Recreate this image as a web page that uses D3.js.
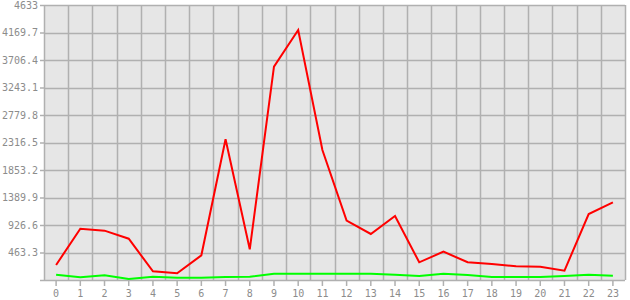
<!DOCTYPE html>
<html>
<head>
<meta charset="utf-8">
<script src="https://cdn.jsdelivr.net/npm/d3@7"></script>
<style>
body { margin: 0; background: #fff; }
</style>
</head>
<body>
<div class="canvas"></div>
<script>
// hours of the day
const hours = d3.range(0, 24);
const redValues = [253, 864, 831, 696, 146, 113, 416, 2370, 517, 3594, 4212, 2190,
    1000, 775, 1078, 298, 477, 300, 270, 230, 224, 157, 1112, 1309];
const greenValues = [89, 45, 79, 17, 56, 39, 39, 51, 56, 106, 106, 106,
    106, 106, 89, 67, 106, 84, 51, 51, 51, 67, 89, 72];
const yTicks = [0, 463.3, 926.6, 1389.9, 1853.2, 2316.5, 2779.8, 3243.1, 3706.4, 4169.7, 4633];
const yMax = 4633;

const svg = d3.select('.canvas')
    .append('svg')
    .attr('width', 630)
    .attr('height', 300);

const margin = { top: 5, right: 5, bottom: 20, left: 44 };
const graphWidth = 630 - margin.left - margin.right;
const graphHeight = 300 - margin.top - margin.bottom;

const graph = svg.append('g')
    .attr('transform', `translate(${margin.left}, ${margin.top})`);

const x = d3.scaleBand()
    .domain(hours)
    .range([0, graphWidth]);

const y = d3.scaleLinear()
    .domain([0, yMax])
    .range([graphHeight, 0]);

const gridColor = '#b0b0b0';
const textColor = '#8c8c8c';

graph.append('rect')
    .attr('width', graphWidth)
    .attr('height', graphHeight)
    .attr('fill', '#e6e6e6');

// vertical grid on band edges
graph.selectAll('.vgrid')
    .data(hours.concat([24]))
    .enter()
    .append('line')
    .attr('x1', d => Math.round(d * x.step()) + 0.5)
    .attr('x2', d => Math.round(d * x.step()) + 0.5)
    .attr('y1', 0)
    .attr('y2', graphHeight)
    .attr('stroke', gridColor)
    .attr('stroke-width', 1.5);

// horizontal grid
graph.selectAll('.hgrid')
    .data(yTicks)
    .enter()
    .append('line')
    .attr('x1', 0)
    .attr('x2', graphWidth)
    .attr('y1', d => Math.round(y(d)) + 0.5)
    .attr('y2', d => Math.round(y(d)) + 0.5)
    .attr('stroke', gridColor)
    .attr('stroke-width', 1.5);

// axes
const xAxis = d3.axisBottom(x).tickSize(6).tickSizeOuter(0).tickPadding(4);
const yAxis = d3.axisLeft(y).tickValues(yTicks).tickSize(4).tickSizeOuter(0).tickPadding(2)
    .tickFormat(d => d === 0 ? '' : String(d));

const xAxisGroup = graph.append('g')
    .attr('transform', `translate(0, ${graphHeight})`)
    .call(xAxis);
const yAxisGroup = graph.append('g').call(yAxis);

[xAxisGroup, yAxisGroup].forEach(g => {
    g.select('.domain').remove();
    g.selectAll('line').attr('stroke', gridColor).attr('stroke-width', 1.5);
    g.selectAll('text')
        .attr('fill', textColor)
        .attr('font-family', '"DejaVu Sans Mono", monospace')
        .attr('font-size', 10);
});

const lineFor = vals => d3.line()
    .x((d, i) => x(hours[i]) + x.bandwidth() / 2)
    .y(d => y(d))(vals);

graph.append('path')
    .attr('d', lineFor(greenValues))
    .attr('fill', 'none')
    .attr('stroke', '#00ff00')
    .attr('stroke-width', 2);

graph.append('path')
    .attr('d', lineFor(redValues))
    .attr('fill', 'none')
    .attr('stroke', '#ff0000')
    .attr('stroke-width', 2);
</script>
</body>
</html>
